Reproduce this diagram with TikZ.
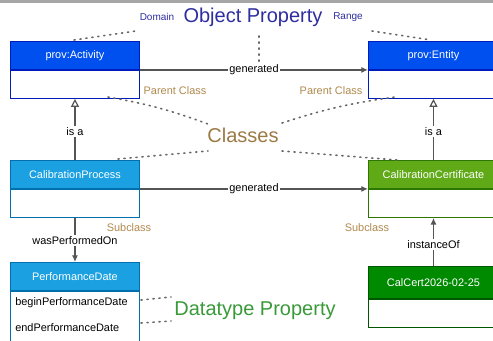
\documentclass[tikz,border=0pt]{standalone}
\usepackage{fontspec}
\setmainfont{Liberation Sans}
\usetikzlibrary{arrows.meta}
\definecolor{actblue}{HTML}{0050EF}
\definecolor{actstroke}{HTML}{001DBC}
\definecolor{lblue}{HTML}{1BA1E2}
\definecolor{lbluestroke}{HTML}{006EAF}
\definecolor{lgreen}{HTML}{60A917}
\definecolor{lgreenstroke}{HTML}{2D7600}
\definecolor{dgreen}{HTML}{008A00}
\definecolor{dgreenstroke}{HTML}{005700}
\definecolor{navy}{HTML}{2E2EA0}
\definecolor{brownlbl}{HTML}{B08A4E}
\definecolor{brownbig}{HTML}{9C7A45}
\definecolor{greenbig}{HTML}{3A9A3A}
\definecolor{connc}{HTML}{555555}
\definecolor{dotc}{HTML}{666666}
\tikzset{
  hdr/.style={rectangle, anchor=north west, minimum width=96.75pt, minimum height=21pt,
    inner sep=0pt, text=white, font=\fontsize{8.2}{9}\selectfont, line width=0.7pt},
  hdrR/.style={hdr, minimum width=97.5pt},
  bodybox/.style={rectangle, anchor=north west, minimum width=96.75pt, minimum height=21pt,
    inner sep=0pt, fill=white, line width=0.7pt},
  bodyR/.style={bodybox, minimum width=97.5pt},
  conn/.style={draw=connc, line width=0.9pt},
  lbl/.style={font=\fontsize{8.2}{9}\selectfont, fill=white, inner sep=1pt, text=black},
  small/.style={font=\fontsize{8.2}{9}\selectfont, inner sep=0pt},
  brownl/.style={font=\fontsize{8.2}{9}\selectfont, text=brownlbl, inner sep=0pt},
  big/.style={font=\fontsize{15}{17}\selectfont, inner sep=0pt},
  dots/.style={draw=dotc, line width=1.2pt, dash pattern=on 0.9pt off 3.6pt, line cap=round},
}
\begin{document}
\begin{tikzpicture}[x=0.75pt,y=-0.75pt]
\useasboundingbox (0,0) rectangle (493,341);
\clip (0,0) rectangle (493,341);
\fill[white] (0,0) rectangle (493,341);
\fill[black!35] (0,0) rectangle (493,3);

% Top classes
\node[hdr, fill=actblue, draw=actstroke] (act) at (10,41) {prov:Activity};
\node[bodybox, draw=actstroke] (actb) at (act.south west) {};
\node[hdrR, fill=actblue, draw=actstroke] (ent) at (368,41) {prov:Entity};
\node[bodyR, draw=actstroke] (entb) at (ent.south west) {};

% Middle classes
\node[hdr, fill=lblue, draw=lbluestroke] (cp) at (10,160) {CalibrationProcess};
\node[bodybox, draw=lbluestroke] (cpb) at (cp.south west) {};
\node[hdrR, fill=lgreen, draw=lgreenstroke] (cc) at (368,160) {CalibrationCertificate};
\node[bodyR, draw=lgreenstroke] (ccb) at (cc.south west) {};

% Bottom
\node[hdr, fill=lblue, draw=lbluestroke] (pd) at (10,262) {PerformanceDate};
\node[bodybox, draw=lbluestroke, minimum height=45pt] (pdb) at (pd.south west) {};
\node[small, anchor=west] (begin) at (15,303) {beginPerformanceDate};
\node[small, anchor=west] (endp) at (15,328) {endPerformanceDate};
\node[hdrR, fill=dgreen, draw=dgreenstroke, minimum height=24pt] (cc26) at (368,266) {CalCert2026-02-25};
\node[bodyR, draw=dgreenstroke, minimum height=21pt] (cc26b) at (cc26.south west) {};

% Connectors
\draw[conn, -{Latex[length=5pt,width=4.5pt]}] (act.south east) -- node[lbl] {generated} (ent.south west);
\draw[conn, -{Latex[length=5pt,width=4.5pt]}] (cp.south east) -- node[lbl] {generated} (cc.south west);
\draw[conn, -{Triangle[open,length=6pt,width=6pt]}] (cp.north) -- node[lbl, pos=0.47] {is a} (actb.south);
\draw[conn, -{Triangle[open,length=6pt,width=6pt]}] (cc.north) -- node[lbl, pos=0.47] {is a} (entb.south);
\draw[conn, -{Latex[length=5pt,width=4.5pt]}] (cpb.south) -- node[lbl, pos=0.52] {wasPerformedOn} (pd.north);
\draw[conn, -{Latex[length=5pt,width=4.5pt]}] (cc26.north) -- node[lbl, pos=0.45] {instanceOf} (ccb.south);

% Texts
\node[big, text=navy] (op) at (253,17) {Object Property};
\node[font=\fontsize{7.5}{9}\selectfont, text=navy, inner sep=0pt] (dom) at (157,17) {Domain};
\node[font=\fontsize{7.5}{9}\selectfont, text=navy, inner sep=0pt] (rng) at (348,17) {Range};
\node[big, text=brownbig] (cls) at (243,135) {Classes};
\node[big, text=greenbig] (dtp) at (255,311) {Datatype Property};
\node[brownl] (pcl) at (175,91) {Parent Class};
\node[brownl] (pcr) at (331,91) {Parent Class};
\node[brownl] (scl) at (129,228) {Subclass};
\node[brownl] (scr) at (367,228) {Subclass};

% Dotted guides
\coordinate (d1a) at (74,40); \coordinate (d1b) at (136,31);
\draw[dots] (d1a) -- (d1b);
\coordinate (d2a) at (372,31); \coordinate (d2b) at (431,40);
\draw[dots] (d2a) -- (d2b);
\coordinate (d3a) at (259,36); \coordinate (d3b) at (259,63);
\draw[dots] (d3a) -- (d3b);
\coordinate (d4a) at (108,97); \coordinate (d4b) at (208,124);
\draw[dots] (d4a) to[bend left=5] (d4b);
\coordinate (d5a) at (282,123); \coordinate (d5b) at (395,97);
\draw[dots] (d5a) to[bend left=5] (d5b);
\coordinate (d6a) at (118,159); \coordinate (d6b) at (208,151);
\draw[dots] (d6a) -- (d6b);
\coordinate (d7a) at (282,151); \coordinate (d7b) at (397,160);
\draw[dots] (d7a) -- (d7b);
\coordinate (d8a) at (141,300); \coordinate (d8b) at (171,297);
\draw[dots] (d8a) -- (d8b);
\coordinate (d9a) at (141,323); \coordinate (d9b) at (171,321);
\draw[dots] (d9a) -- (d9b);
\end{tikzpicture}
\end{document}
